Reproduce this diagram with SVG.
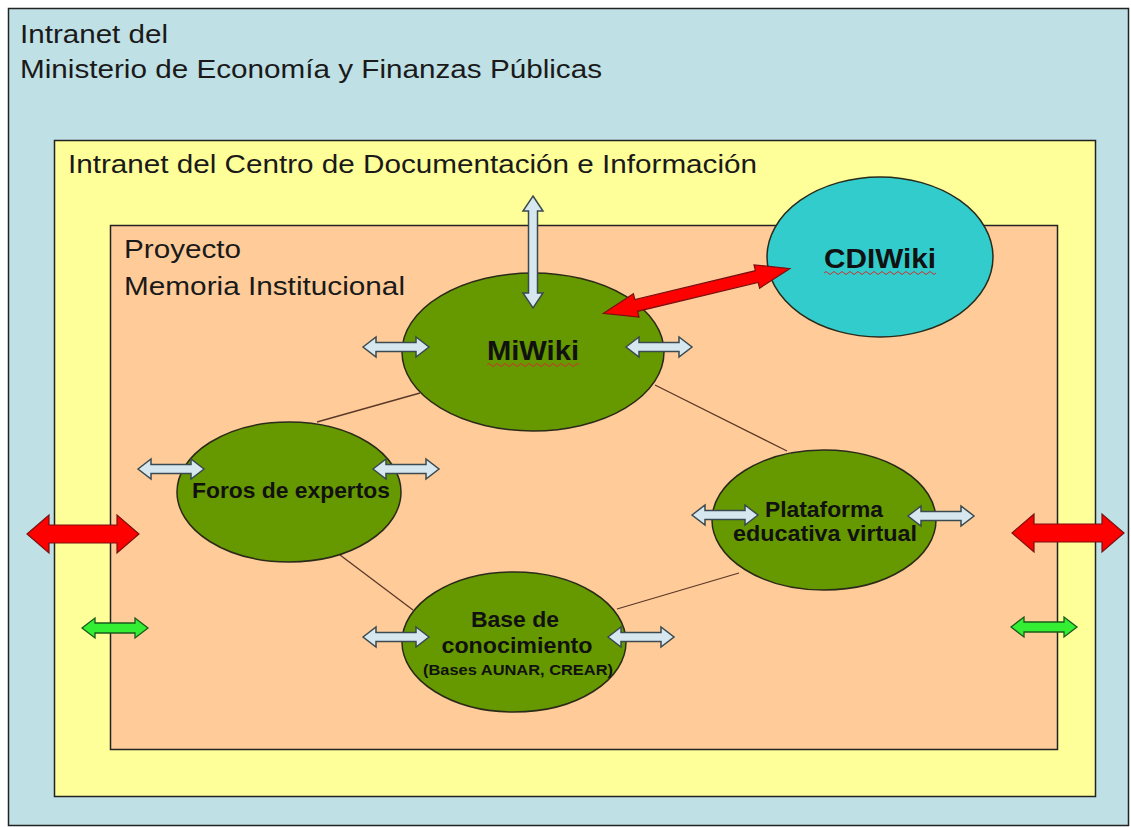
<svg xmlns="http://www.w3.org/2000/svg" xmlns:xlink="http://www.w3.org/1999/xlink" width="1131" height="827" viewBox="0 0 1131 827">
<style>
.frame{stroke:#222;stroke-width:1.5}
.title{font-family:"Liberation Sans",Arial,sans-serif;font-size:26px;fill:#1a1a1a}
.node{stroke:#2a2a1a;stroke-width:1.5}
.green{fill:#669900}
.cyan{fill:#33cccc}
.lbl{font-family:"Liberation Sans",Arial,sans-serif;font-weight:bold;fill:#111;text-anchor:middle}
.link{stroke:#5a3828;stroke-width:1.3;fill:none}
.blue{fill:#d6e7ef;stroke:#3a4a50;stroke-width:1.5;stroke-linejoin:miter}
.red{fill:#ff0000;stroke:#7a1010;stroke-width:1.2}
.grn{fill:#33ee33;stroke:#1a5a1a;stroke-width:1.3}
.squig{fill:none;stroke:#d03030;stroke-width:1}
</style>
<defs>
<path id="barrow" d="M-33,0 L-20,-10 L-20,-4.5 L20,-4.5 L20,-10 L33,0 L20,10 L20,4.5 L-20,4.5 L-20,10 Z"/>
<path id="rarrow" d="M-56,0 L-34,-19 L-34,-9 L34,-9 L34,-19 L56,0 L34,19 L34,9 L-34,9 L-34,19 Z"/>
<path id="garrow" d="M-33,0 L-20,-10 L-20,-5 L20,-5 L20,-10 L33,0 L20,10 L20,5 L-20,5 L-20,10 Z"/>
</defs>

<g id="intranet-ministerio">
<rect class="frame" x="8.5" y="8.5" width="1120" height="817" fill="#bfe0e5"/>
<text class="title" x="20" y="43" textLength="148" lengthAdjust="spacingAndGlyphs">Intranet del</text>
<text class="title" x="20" y="78" textLength="582" lengthAdjust="spacingAndGlyphs">Ministerio de Economía y Finanzas Públicas</text>
</g>

<g id="intranet-cdi">
<rect class="frame" x="54.5" y="140.5" width="1041" height="656" fill="#ffff99"/>
<text class="title" x="68" y="173" textLength="689" lengthAdjust="spacingAndGlyphs">Intranet del Centro de Documentación e Información</text>
</g>

<g id="proyecto">
<rect class="frame" x="110.5" y="225.5" width="947" height="524" fill="#ffcc99"/>
<text class="title" x="124" y="258" textLength="117" lengthAdjust="spacingAndGlyphs">Proyecto</text>
<text class="title" x="124" y="295" textLength="281" lengthAdjust="spacingAndGlyphs">Memoria Institucional</text>
</g>

<g id="connectors">
<line class="link" x1="317" y1="422" x2="420" y2="393"/>
<line class="link" x1="655" y1="385" x2="787" y2="451"/>
<line class="link" x1="340" y1="555" x2="413" y2="610"/>
<line class="link" x1="617" y1="609" x2="739" y2="573"/>
</g>

<g id="cdiwiki">
<ellipse class="node cyan" cx="880" cy="257" rx="113" ry="80"/>
<text class="lbl" x="880" y="268" font-size="28" textLength="112" lengthAdjust="spacingAndGlyphs">CDIWiki</text>
<path class="squig" d="M824,273 q2,-3 4,0 t4,0 t4,0 t4,0 t4,0 t4,0 t4,0 t4,0 t4,0 t4,0 t4,0 t4,0 t4,0 t4,0 t4,0 t4,0 t4,0 t4,0 t4,0 t4,0 t4,0 t4,0 t4,0 t4,0 t4,0 t4,0 t4,0 t4,0"/>
</g>

<g id="miwiki">
<ellipse class="node green" cx="533" cy="352" rx="131" ry="79"/>
<text class="lbl" x="533" y="360" font-size="28" textLength="92" lengthAdjust="spacingAndGlyphs">MiWiki</text>
<path class="squig" d="M487,365 q2,-3 4,0 t4,0 t4,0 t4,0 t4,0 t4,0 t4,0 t4,0 t4,0 t4,0 t4,0 t4,0 t4,0 t4,0 t4,0 t4,0 t4,0 t4,0 t4,0 t4,0 t4,0 t4,0 t4,0"/>
</g>

<g id="foros">
<ellipse class="node green" cx="289" cy="492" rx="112" ry="70"/>
<text class="lbl" x="291" y="498" font-size="22" textLength="198" lengthAdjust="spacingAndGlyphs">Foros de expertos</text>
</g>

<g id="plataforma">
<ellipse class="node green" cx="824" cy="520" rx="112" ry="70"/>
<text class="lbl" x="824" y="517" font-size="22" textLength="118" lengthAdjust="spacingAndGlyphs">Plataforma</text>
<text class="lbl" x="825" y="541" font-size="22" textLength="184" lengthAdjust="spacingAndGlyphs">educativa virtual</text>
</g>

<g id="base">
<ellipse class="node green" cx="514" cy="642" rx="112" ry="70"/>
<text class="lbl" x="515" y="627" font-size="22" textLength="88" lengthAdjust="spacingAndGlyphs">Base de</text>
<text class="lbl" x="517" y="653" font-size="22" textLength="151" lengthAdjust="spacingAndGlyphs">conocimiento</text>
<text class="lbl" x="518" y="675" font-size="15" textLength="190" lengthAdjust="spacingAndGlyphs">(Bases AUNAR, CREAR)</text>
</g>

<g id="arrows">
<path class="blue" d="M533,196 L543,211 L537.5,211 L537.5,293 L543,293 L533,308 L523,293 L528.5,293 L528.5,211 L523,211 Z"/>
<use href="#barrow" class="blue" transform="translate(396,347)"/>
<use href="#barrow" class="blue" transform="translate(659,347)"/>
<use href="#barrow" class="blue" transform="translate(171,469)"/>
<use href="#barrow" class="blue" transform="translate(406,469)"/>
<use href="#barrow" class="blue" transform="translate(725,515)"/>
<use href="#barrow" class="blue" transform="translate(941,516)"/>
<use href="#barrow" class="blue" transform="translate(396,637)"/>
<use href="#barrow" class="blue" transform="translate(641,637)"/>
<path class="red" transform="translate(696.5,291) rotate(-13.5)" d="M-96,0 L-62,-12 L-62,-6 L62,-6 L62,-12 L96,0 L62,12 L62,6 L-62,6 L-62,12 Z"/>
<use href="#rarrow" class="red" transform="translate(83,534)"/>
<use href="#rarrow" class="red" transform="translate(1068,533)"/>
<use href="#garrow" class="grn" transform="translate(115,628)"/>
<use href="#garrow" class="grn" transform="translate(1044,627)"/>
</g>
</svg>
